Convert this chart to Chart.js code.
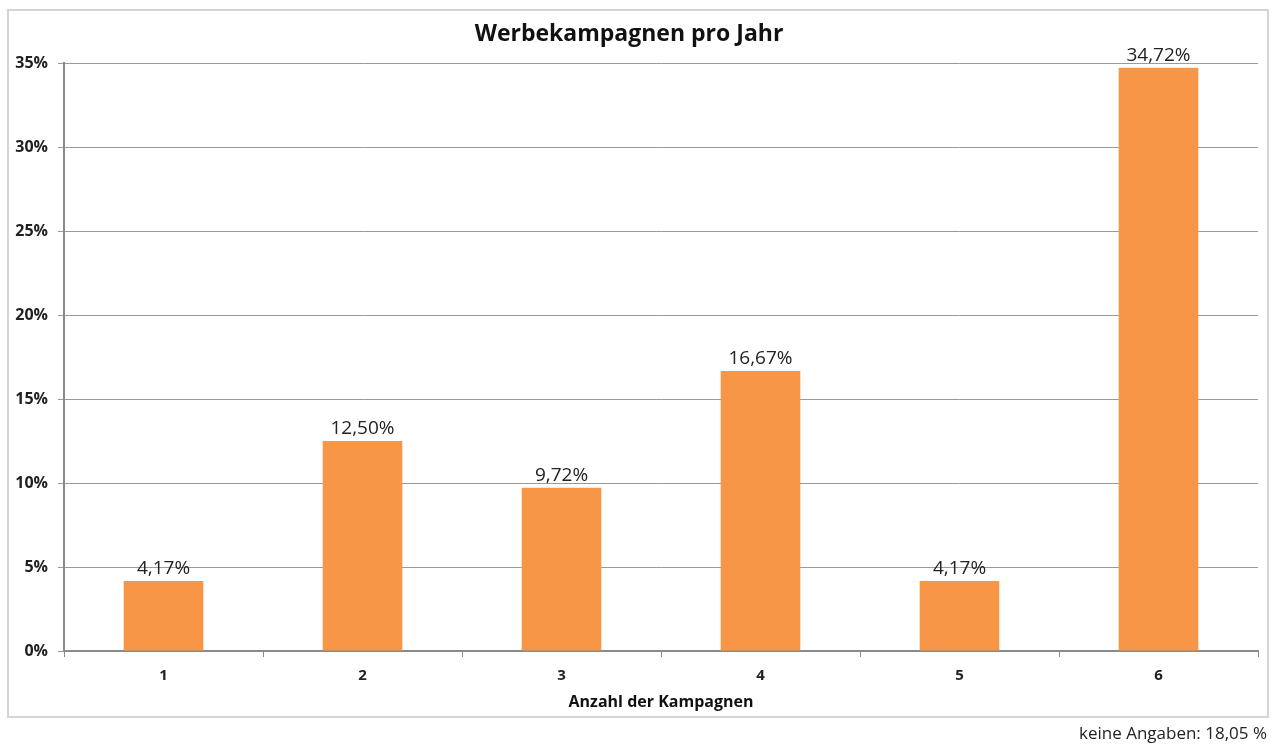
<!DOCTYPE html>
<html>
<head>
<meta charset="utf-8">
<script src="https://cdn.jsdelivr.net/npm/chart.js@4"></script>
<style>
  html, body { margin: 0; padding: 0; background: #fff; }
  #wrap { position: relative; width: 1276px; height: 745px; }
  #frame { position: absolute; left: 7px; top: 9px; width: 1258px; height: 705px; border: 2px solid #d4d4d4; }
  #chart { position: absolute; left: 0; top: 0; }
  #note { position: absolute; right: 9px; top: 721px; font: 17px "Open Sans", sans-serif; color: #222; }
</style>
</head>
<body>
<div id="wrap">
  <div id="frame"></div>
  <canvas id="chart" width="1276" height="745"></canvas>
  <div id="note">keine Angaben: 18,05 %</div>
</div>
<script>
const categories = ["1", "2", "3", "4", "5", "6"]
const shares = [4.17, 12.5, 9.72, 16.67, 4.17, 34.72]
const yTicks = [0, 5, 10, 15, 20, 25, 30, 35]

const fmt = (v) => v.toFixed(2).replace(".", ",") + "%"

// labels above the bars
const valueLabels = {
  id: "valueLabels",
  afterDatasetsDraw(chart) {
    const ctx = chart.ctx
    const meta = chart.getDatasetMeta(0)
    ctx.save()
    ctx.font = '19px "Open Sans", sans-serif'
    ctx.fillStyle = "#222"
    ctx.textAlign = "center"
    ctx.textBaseline = "bottom"
    meta.data.forEach((bar, i) => {
      ctx.fillText(fmt(shares[i]), bar.x, bar.y - 3)
    })
    ctx.restore()
  },
}

document.addEventListener("DOMContentLoaded", () => {
  new Chart(document.getElementById("chart"), {
    type: "bar",
    data: {
      labels: categories,
      datasets: [
        {
          data: shares,
          backgroundColor: "#f79646",
          categoryPercentage: 1,
          barPercentage: 0.4,
        },
      ],
    },
    options: {
      responsive: false,
      animation: false,
      layout: { padding: { left: 0, right: 18, top: 0, bottom: 24 } },
      plugins: {
        legend: { display: false },
        tooltip: { enabled: false },
        title: {
          display: true,
          text: "Werbekampagnen pro Jahr",
          color: "#111",
          font: { family: "Open Sans", size: 23, weight: "bold", lineHeight: 1.2 },
          padding: { top: 21, bottom: 14.4 },
        },
      },
      scales: {
        x: {
          afterFit: (s) => { s.height = 70 },
          grid: { offset: true, drawOnChartArea: false, tickLength: 6, color: "#8a8a8a", lineWidth: 1 },
          border: { color: "#8a8a8a", width: 2 },
          ticks: { color: "#222", padding: 10, font: { family: "Open Sans", size: 15, weight: "bold" } },
          title: {
            display: true,
            text: "Anzahl der Kampagnen",
            color: "#111",
            font: { family: "Open Sans", size: 16, weight: "bold", lineHeight: 1.2 },
            padding: { top: 4, bottom: 9 },
          },
        },
        y: {
          min: 0,
          max: 35,
          afterFit: (s) => { s.width = 64 },
          afterBuildTicks: (s) => { s.ticks = yTicks.map((v) => ({ value: v })) },
          grid: { color: "#9a9a9a", lineWidth: 1, tickLength: 6 },
          border: { color: "#8a8a8a", width: 2 },
          ticks: {
            color: "#222",
            padding: 10,
            font: { family: "Open Sans", size: 16, weight: "bold" },
            callback: (v) => v + "%",
          },
        },
      },
    },
    plugins: [valueLabels],
  })
})
</script>
</body>
</html>
